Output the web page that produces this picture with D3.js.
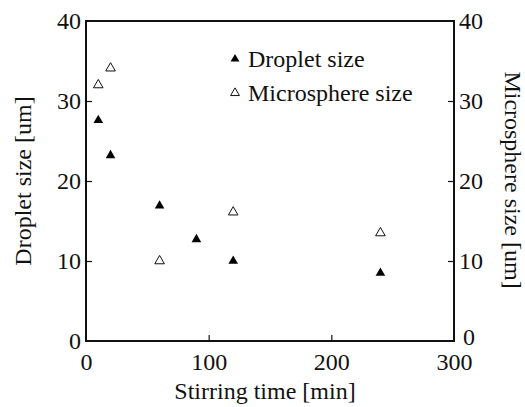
<!DOCTYPE html>
<html>
<head>
<meta charset="utf-8">
<script src="https://cdn.jsdelivr.net/npm/d3@7"></script>
<style>
  body { margin: 0; background: #fff; }
  text { font-family: "Liberation Serif", "Times New Roman", serif; fill: #111; }
</style>
</head>
<body>
<div id="chart"></div>
<script>
var stirTime = [10, 20, 60, 90, 120, 240];
var dropletSize = [27.6, 23.2, 16.9, 12.7, 10.0, 8.5];
var microTime = [10, 20, 60, 120, 240];
var microSize = [32.0, 34.1, 10.0, 16.1, 13.5];
var xTicks = [0, 100, 200, 300];
var yTicks = [0, 10, 20, 30, 40];
var legendLabels = ["Droplet size", "Microsphere size"];

var width = 525, height = 407;
var margin = {top: 21, right: 71, bottom: 66, left: 86};
var w = width - margin.left - margin.right,
    h = height - margin.top - margin.bottom;

var svg = d3.select("#chart").append("svg")
    .attr("width", width)
    .attr("height", height);

var g = svg.append("g")
    .attr("transform", "translate(" + margin.left + "," + margin.top + ")");

var x = d3.scaleLinear().domain([0, 300]).range([0, w]);
var y = d3.scaleLinear().domain([0, 40]).range([h, 0]);
var y2 = d3.scaleLinear().domain([0, 40]).range([h, 0]);

// frame round the plot
g.append("rect")
    .attr("width", w).attr("height", h)
    .attr("fill", "none").attr("stroke", "#111").attr("stroke-width", 2);

// ticks point inward
var ax = g.append("g").attr("transform", "translate(0," + h + ")")
    .call(d3.axisBottom(x).tickValues(xTicks).tickSizeInner(-6).tickSizeOuter(0).tickPadding(12));
var ay = g.append("g")
    .call(d3.axisLeft(y).tickValues(yTicks).tickSizeInner(-6).tickSizeOuter(0).tickPadding(5));
var ay2 = g.append("g").attr("transform", "translate(" + w + ",0)")
    .call(d3.axisRight(y2).tickValues(yTicks).tickSizeInner(-6).tickSizeOuter(0).tickPadding(5));

[ax, ay, ay2].forEach(function(a) {
  a.select(".domain").remove();
  a.selectAll("line").attr("stroke", "#111").attr("stroke-width", 1.2);
  a.selectAll("text").style("font-size", "24px").style("font-family", "Liberation Serif, serif").attr("fill", "#111");
});
// no tick marks at the corners
ax.selectAll(".tick line").filter(function(d) { return d === 0 || d === 300; }).remove();
ay.selectAll(".tick line").filter(function(d) { return d === 0 || d === 40; }).remove();
ay2.selectAll(".tick line").filter(function(d) { return d === 0 || d === 40; }).remove();
// right-hand 0 sits just above the 300
ay2.selectAll(".tick").filter(function(d) { return d === 0; }).select("text")
    .attr("dy", "0.15em").attr("x", 9);

var tri = d3.symbol().type(d3.symbolTriangle).size(40);
var triSmall = d3.symbol().type(d3.symbolTriangle).size(34);

g.selectAll(".drop").data(stirTime).enter().append("path")
    .attr("class", "drop")
    .attr("d", tri)
    .attr("transform", function(d, i) { return "translate(" + x(d) + "," + y(dropletSize[i]) + ")"; })
    .attr("fill", "#000");

g.selectAll(".micro").data(microTime).enter().append("path")
    .attr("class", "micro")
    .attr("d", tri)
    .attr("transform", function(d, i) { return "translate(" + x(d) + "," + y2(microSize[i]) + ")"; })
    .attr("fill", "#fff").attr("stroke", "#111").attr("stroke-width", 1);

// legend
var legend = svg.selectAll(".legend").data(legendLabels).enter().append("g")
    .attr("transform", function(d, i) { return "translate(235," + (59 + i * 34) + ")"; });
legend.append("path")
    .attr("d", triSmall)
    .attr("fill", function(d, i) { return i === 0 ? "#000" : "#fff"; })
    .attr("stroke", "#111").attr("stroke-width", function(d, i) { return i === 0 ? 0 : 1; });
legend.append("text")
    .attr("x", 13).attr("y", 8)
    .style("font-size", "24px")
    .text(function(d) { return d; });

// axis titles
svg.append("text")
    .attr("x", 265).attr("y", 399)
    .attr("text-anchor", "middle")
    .style("font-size", "24px")
    .text("Stirring time [min]");

svg.append("text")
    .attr("transform", "translate(31,181) rotate(-90)")
    .attr("text-anchor", "middle")
    .style("font-size", "24px")
    .text("Droplet size [um]");

svg.append("text")
    .attr("transform", "translate(505,180) rotate(90)")
    .attr("text-anchor", "middle")
    .style("font-size", "24px")
    .text("Microsphere size [um]");
</script>
</body>
</html>
